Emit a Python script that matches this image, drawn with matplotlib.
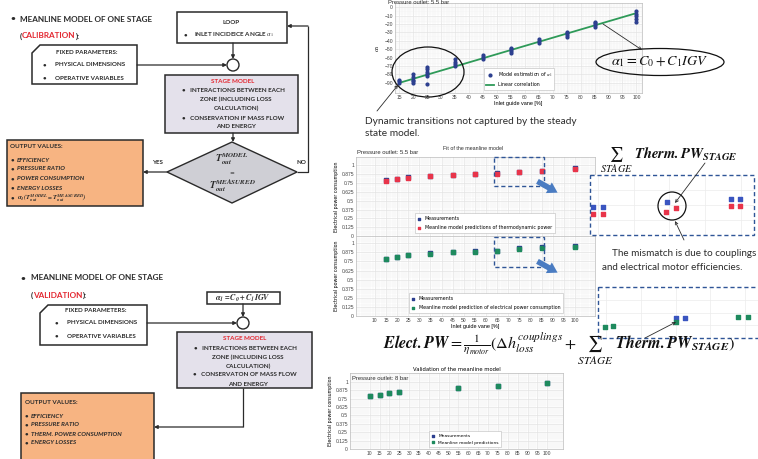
import matplotlib
matplotlib.use('Agg')
import matplotlib.pyplot as plt
import numpy as np
from matplotlib.patches import Rectangle, Polygon, Ellipse, Circle, FancyArrowPatch

plt.rcParams['mathtext.fontset'] = 'stix'

# ---------------- data ----------------
# alpha_1 calibration chart
igv_alpha = [15, 15, 15, 20, 20, 20, 20, 20, 25, 25, 25, 25, 25, 25,
             35, 35, 35, 35, 45, 45, 45, 55, 55, 55, 55, 65, 65, 65,
             75, 75, 75, 75, 85, 85, 85, 85, 100, 100, 100, 100, 100]
alpha_est = [-86, -88, -90, -80, -83, -86, -88, -90, -71, -74, -77, -80, -82, -91,
             -62, -65, -68, -70, -57, -59, -61, -48, -50, -52, -54, -38, -40, -42,
             -29, -31, -33, -36, -17, -19, -21, -24, -5, -8, -11, -14, -18]
lin_igv = [15, 100]
lin_alpha = [-90, -7]
alpha_xticks = list(range(15, 101, 5))
alpha_yticks = [0, -10, -20, -30, -40, -50, -60, -70, -80, -90]

# fit of the meanline model (5.5 bar)
igv_fit = [15, 20, 25, 35, 45, 55, 65, 75, 85, 100]
therm_meas = [0.79, 0.81, 0.83, 0.85, 0.87, 0.88, 0.89, 0.91, 0.92, 0.96]
therm_pred = [0.785, 0.805, 0.825, 0.845, 0.865, 0.875, 0.885, 0.905, 0.915, 0.955]
elec_meas = [0.79, 0.81, 0.84, 0.86, 0.88, 0.89, 0.90, 0.93, 0.945, 0.96]
elec_pred = [0.785, 0.805, 0.835, 0.855, 0.875, 0.885, 0.895, 0.925, 0.94, 0.955]

# validation (8 bar)
igv_val = [10, 15, 20, 25, 55, 75, 100]
val_meas = [0.79, 0.81, 0.84, 0.85, 0.91, 0.94, 0.985]
val_pred = [0.785, 0.805, 0.835, 0.845, 0.905, 0.935, 0.98]

power_yticks = [0, 0.125, 0.25, 0.375, 0.5, 0.625, 0.75, 0.875, 1]
power_ylabels = ['0', '0.125', '0.25', '0.375', '0.5', '0.625', '0.75', '0.875', '1']
power_xticks = list(range(10, 101, 5))

# zoomed details
zA_meas_x = [64.3, 65.7, 74.6, 83.6, 84.9]
zA_meas_y = [0.897, 0.897, 0.905, 0.910, 0.910]
zA_pred_x = [64.3, 65.7, 74.5, 75.9, 83.6, 84.9]
zA_pred_y = [0.885, 0.885, 0.888, 0.895, 0.898, 0.898]
zB_meas_x = [75.1, 76.4]
zB_meas_y = [0.889, 0.889]
zB_pred_x = [64.9, 66.0, 75.0, 84.0, 85.4]
zB_pred_y = [0.872, 0.874, 0.881, 0.891, 0.891]

# ---------------- figure ----------------
W, H = 758, 459
fig = plt.figure(figsize=(W / 100, H / 100), dpi=100)
fig.patch.set_facecolor('white')


def rect(l, t, r, b):
    return [l / W, 1 - b / H, (r - l) / W, (b - t) / H]


C_MEAS = '#2c3f8f'
C_RED = '#e8344a'
C_GREEN = '#1e8a5e'
C_LINE = '#2e9a58'
GRIDC = '#e3e3e3'


def style_axes(ax):
    ax.grid(True, which='major', color=GRIDC, lw=0.5)
    ax.minorticks_on()
    ax.grid(True, which='minor', color='#f0f0f0', lw=0.35)
    ax.tick_params(which='both', length=0, pad=1.5, labelsize=3.6, colors='#444444')
    for s in ax.spines.values():
        s.set_color('#bbbbbb')
        s.set_linewidth(0.5)
    for lab in ax.get_xticklabels() + ax.get_yticklabels():
        lab.set_family('Liberation Sans')


# ---- alpha chart ----
axa = fig.add_axes(rect(395, 3, 642, 93))
h_sc = axa.scatter(igv_alpha, alpha_est, s=4, color=C_MEAS, label=r'Model estimation of $\alpha_1$', zorder=3)
h_ln, = axa.plot(lin_igv, lin_alpha, color=C_LINE, lw=1.3, label='Linear correlation', zorder=2)
axa.set_xlim(13.5, 102)
axa.set_ylim(-102, 5)
axa.set_xticks(alpha_xticks)
axa.set_yticks(alpha_yticks)
style_axes(axa)
axa.set_xlabel('Inlet guide vane [%]', fontsize=4, labelpad=1, family='Liberation Sans')
axa.set_ylabel(r'$\alpha_1$', fontsize=5, labelpad=2)
leg = axa.legend(handles=[h_sc, h_ln], loc='lower left', bbox_to_anchor=(0.35, 0.01), fontsize=3.4,
                 frameon=True, handlelength=1.6, borderpad=0.5, labelspacing=0.7, fancybox=False,
                 edgecolor='#bbbbbb', framealpha=1)
leg.get_frame().set_linewidth(0.4)

# ---- fit chart A (thermodynamic) ----
axA = fig.add_axes(rect(356, 157, 595, 236))
axA.scatter(igv_fit, therm_meas, s=9, color=C_MEAS, marker='s', label='Measurements', zorder=3)
axA.scatter(igv_fit, therm_pred, s=7, color=C_RED, marker='s',
            label='Meanline model predictions of thermodynamic power', zorder=4)
axA.set_xlim(1.5, 109)
axA.set_ylim(0, 1.12)
axA.set_xticks(power_xticks)
axA.set_yticks(power_yticks)
axA.set_yticklabels(power_ylabels)
axA.set_xticklabels([])
style_axes(axA)
axA.set_ylabel('Electrical power consumption', fontsize=3.4, labelpad=2)
leg = axA.legend(loc='lower left', bbox_to_anchor=(0.235, 0.01), fontsize=3.4, frameon=True,
                 handlelength=0.8, borderpad=0.6, labelspacing=0.9, fancybox=False,
                 edgecolor='#bbbbbb', framealpha=1, markerscale=0.5)
leg.get_frame().set_linewidth(0.4)

# ---- fit chart B (electrical) ----
axB = fig.add_axes(rect(356, 236, 595, 316))
axB.scatter(igv_fit, elec_meas, s=9, color=C_MEAS, marker='s', label='Measurements', zorder=3)
axB.scatter(igv_fit, elec_pred, s=8, color=C_GREEN, marker='s',
            label='Meanline model prediction of electrical power consumption', zorder=4)
axB.set_xlim(1.5, 109)
axB.set_ylim(0, 1.1)
axB.set_xticks(power_xticks)
axB.set_yticks(power_yticks)
axB.set_yticklabels(power_ylabels)
style_axes(axB)
axB.set_xlabel('Inlet guide vane [%]', fontsize=4, labelpad=1, family='Liberation Sans')
axB.set_ylabel('Electrical power consumption', fontsize=3.4, labelpad=2)
leg = axB.legend(loc='lower left', bbox_to_anchor=(0.21, 0.01), fontsize=3.4, frameon=True,
                 handlelength=0.8, borderpad=0.6, labelspacing=0.9, fancybox=False,
                 edgecolor='#bbbbbb', framealpha=1, markerscale=0.5)
leg.get_frame().set_linewidth(0.4)

# ---- validation chart ----
axV = fig.add_axes(rect(350, 373, 563, 449))
axV.scatter(igv_val, val_meas, s=9, color=C_MEAS, marker='s', label='Measurements', zorder=3)
axV.scatter(igv_val, val_pred, s=8, color=C_GREEN, marker='s', label='Meanline model predictions', zorder=4)
axV.set_xlim(0, 108)
axV.set_ylim(0, 1.13)
axV.set_xticks(power_xticks)
axV.set_yticks(power_yticks)
axV.set_yticklabels(power_ylabels)
style_axes(axV)
axV.set_ylabel('Electrical power consumption', fontsize=3.4, labelpad=2)
axV.set_title('Validation of the meanline model', fontsize=3.8, pad=1.5)
leg = axV.legend(loc='lower left', bbox_to_anchor=(0.36, 0.0), fontsize=3.2, frameon=True,
                 handlelength=0.8, borderpad=0.5, labelspacing=0.6, fancybox=False,
                 edgecolor='#bbbbbb', framealpha=1, markerscale=0.5)
leg.get_frame().set_linewidth(0.4)

# ---- zoom insets ----
for (l, t, r, b), mx, my, px, py, pc in [
        ((590, 175, 754, 235), zA_meas_x, zA_meas_y, zA_pred_x, zA_pred_y, C_RED),
        ((598, 287, 758, 338), zB_meas_x, zB_meas_y, zB_pred_x, zB_pred_y, C_GREEN)]:
    az = fig.add_axes(rect(l, t, r, b))
    az.scatter(mx, my, s=5, marker='s', color='#3a55c0', zorder=3)
    az.scatter(px, py, s=5, marker='s', color=pc, zorder=4)
    az.set_xlim(63.9, 86.8)
    az.set_ylim(0.85, 0.95)
    az.set_xticks([65, 70, 75, 80, 85])
    az.set_yticks([0.875, 0.9, 0.925])
    az.grid(True, color='#ececec', lw=0.5)
    az.tick_params(length=0, labelbottom=False, labelleft=False)
    for s in az.spines.values():
        s.set_visible(False)

# ---------------- overlay ----------------
ov = fig.add_axes([0, 0, 1, 1], zorder=10)
ov.set_xlim(0, W)
ov.set_ylim(H, 0)
ov.axis('off')
ov.patch.set_alpha(0)

DK = '#2b2b2b'
FF = 'Lato'


def T(x, y, s, size=4.6, ha='left', va='center', color=DK, weight='bold', style='normal', family=FF, **kw):
    return ov.text(x, y, s, fontsize=size, ha=ha, va=va, color=color, weight=weight,
                   style=style, family=family, **kw)


def seq_text(x, y, parts, size):
    fig.canvas.draw()
    r = fig.canvas.get_renderer()
    for s, c in parts:
        t = T(x, y, s, size=size, color=c)
        bb = t.get_window_extent(renderer=r)
        x += bb.width


def arrow(x0, y0, x1, y1, lw=0.9, color=DK, style='-|>', ms=5):
    ov.add_patch(FancyArrowPatch((x0, y0), (x1, y1), arrowstyle=style, mutation_scale=ms,
                                 lw=lw, color=color, shrinkA=0, shrinkB=0))


def line(xs, ys, lw=0.9, color=DK):
    ov.plot(xs, ys, color=color, lw=lw, solid_capstyle='butt')


RED = '#e3262f'
ORANGE = '#f7b482'
LAV = '#e4e1eb'
GRAYD = '#cfcfd5'
EDGE = '#2a2a2a'
FS = 4.5

# ----- calibration flowchart -----
T(10, 19, '•', size=6)
T(20, 19, 'MEANLINE MODEL OF ONE STAGE', size=5.9)
seq_text(20, 36, [('(', DK), ('CALIBRATION', RED), ('):', DK)], 5.9)

ov.add_patch(Polygon([(40, 45), (137, 45), (137, 84), (32, 84), (32, 53)], closed=True,
                     fc='white', ec=EDGE, lw=1.1))
T(87, 52, 'FIXED PARAMETERS:', size=FS, ha='center')
T(43, 65, '•', size=FS)
T(55, 65, 'PHYSICAL DIMENSIONS', size=FS)
T(43, 78, '•', size=FS)
T(55, 78, 'OPERATIVE VARIABLES', size=FS)

ov.add_patch(Rectangle((177, 12), 110, 31, fc='white', ec=EDGE, lw=1.1))
T(231, 23, 'LOOP', size=FS, ha='center')
T(184, 35, '•', size=FS)
T(194, 35, r'INLET INCIDEICE ANGLE $\alpha_1$', size=FS)

ov.add_patch(Circle((233, 65), 6, fc='white', ec=EDGE, lw=1.0))
arrow(137, 65, 227, 65)
arrow(233, 43, 233, 59)

ov.add_patch(Rectangle((165, 75), 133, 58, fc=LAV, ec=EDGE, lw=1.1))
T(233, 81.5, 'STAGE MODEL', size=FS, ha='center', color=RED)
T(233, 90.5, '•   INTERACTIONS BETWEEN EACH', size=FS, ha='center')
T(236, 99.5, 'ZONE (INCLUDING LOSS', size=FS, ha='center')
T(236, 108.5, 'CALCULATION)', size=FS, ha='center')
T(233, 118, '•   CONSERVATION IF MASS FLOW', size=FS, ha='center')
T(236, 127, 'AND ENERGY', size=FS, ha='center')
arrow(233, 133, 233, 142)

ov.add_patch(Polygon([(167, 172), (232, 142), (297, 172), (232, 203)], closed=True,
                     fc=GRAYD, ec=EDGE, lw=1.0))
T(232, 159.5, r'$\mathbfit{T}_{\mathbfit{out}}^{\mathbfit{MODEL}}$', size=7.2, ha='center')
T(232, 172.5, '=', size=6, ha='center', weight='normal')
T(232, 186, r'$\mathbfit{T}_{\mathbfit{out}}^{\mathbfit{MEASURED}}$', size=7.2, ha='center')
T(157, 163, 'YES', size=FS, ha='center')
T(301, 163, 'NO', size=FS, ha='center')
line([297, 308, 308], [172, 172, 26])
arrow(308, 26, 287, 26)
arrow(167, 172, 143, 172)

ov.add_patch(Rectangle((7, 140), 136, 66, fc=ORANGE, ec=EDGE, lw=1.1))
T(10, 146.5, 'OUTPUT VALUES:', size=FS)
for yy, s in zip([160, 169, 179, 188],
                 ['EFFICIENCY', 'PRESSURE RATIO', 'POWER CONSUMPTION', 'ENERGY LOSSES']):
    T(11, yy, '•', size=FS)
    T(17, yy, s, size=FS, style='italic')
T(11, 198, '•', size=FS)
T(17, 198.5, r'$\mathbfit{\alpha_1(T_{out}^{MODEL}=T_{out}^{MEASURED})}$', size=4.8)

# ----- validation flowchart -----
T(20, 278, '•', size=6)
T(31, 278, 'MEANLINE MODEL OF ONE STAGE', size=5.9)
seq_text(31, 295, [('(', DK), ('VALIDATION', RED), ('):', DK)], 5.9)

ov.add_patch(Rectangle((207, 292), 73, 12, fc='white', ec=EDGE, lw=1.1))
T(243, 298, r'$\mathbfit{\alpha_1 = C_0 + C_1 IGV}$', size=5.8, ha='center')
ov.add_patch(Circle((243, 323), 6, fc='white', ec=EDGE, lw=1.0))
ov.add_patch(Polygon([(48, 305), (147, 305), (147, 345), (40, 345), (40, 313)], closed=True,
                     fc='white', ec=EDGE, lw=1.1))
T(96, 310, 'FIXED PARAMETERS:', size=FS, ha='center')
T(55, 323, '•', size=FS)
T(67, 323, 'PHYSICAL DIMENSIONS', size=FS)
T(55, 336, '•', size=FS)
T(67, 336, 'OPERATIVE VARIABLES', size=FS)
arrow(147, 323, 237, 323)
arrow(243, 304, 243, 317)

ov.add_patch(Rectangle((177, 332), 135, 56, fc=LAV, ec=EDGE, lw=1.1))
T(245, 338.5, 'STAGE MODEL', size=FS, ha='center', color=RED)
T(245, 348, '•   INTERACTIONS BETWEEN EACH', size=FS, ha='center')
T(248, 357, 'ZONE (INCLUDING LOSS', size=FS, ha='center')
T(248, 366, 'CALCULATION)', size=FS, ha='center')
T(245, 375, '•   CONSERVATON OF MASS FLOW', size=FS, ha='center')
T(248, 384, 'AND ENERGY', size=FS, ha='center')
line([243, 243], [388, 427])
arrow(243, 427, 154, 427)

ov.add_patch(Rectangle((21, 393), 133, 75, fc=ORANGE, ec=EDGE, lw=1.1))
T(25, 403, 'OUTPUT VALUES:', size=FS)
for yy, s in zip([416, 425, 434, 443],
                 ['EFFICIENCY', 'PRESSURE RATIO', 'THERM. POWER CONSUMPTION', 'ENERGY LOSSES']):
    T(25, yy, '•', size=FS)
    T(31, yy, s, size=FS, style='italic')

# ----- chart annotations -----
T(388, 3, 'Pressure outlet: 5.5 bar', size=4.2, weight='normal', family='Liberation Sans')
ov.add_patch(Ellipse((428, 72), 72, 50, fill=False, ec='#111111', lw=0.9))
arrow(377, 111, 398, 85, lw=0.6, style='->', ms=5)
T(365, 121, 'Dynamic transitions not captured by the steady', size=7.3, weight='normal')
T(365, 134, 'state model.', size=7.3, weight='normal')

ov.add_patch(Ellipse((660, 62), 128, 27, fill=False, ec='#111111', lw=0.9))
ov.text(660, 62, r'$\alpha_1 = C_0 + C_1 IGV$', fontsize=10.2, ha='center', va='center', color='#111111')
arrow(603, 24, 642, 50, lw=0.6, style='->', ms=5)

T(473, 148, 'Fit of the meanline model', size=3.8, weight='normal', ha='center', family='Liberation Sans')
T(357, 153, 'Pressure outlet: 5.5 bar', size=4.2, weight='normal', family='Liberation Sans')
T(352, 378, 'Pressure outlet: 8 bar', size=4.2, weight='normal', family='Liberation Sans')

DASH = '#2f5597'
for (l, t, r, b) in [(494, 157, 544, 186), (494, 237, 544, 267), (590, 175, 754, 235), (598, 287, 760, 338)]:
    ov.add_patch(Rectangle((l, t), r - l, b - t, fill=False, ec=DASH, lw=1.0, ls=(0, (3, 2))))

for (x0, y0, x1, y1) in [(535, 180, 560, 194), (535, 260, 560, 274)]:
    ov.add_patch(FancyArrowPatch((x0, y0), (x1, y1),
                                 arrowstyle='simple,head_width=1.1,head_length=0.9,tail_width=0.5',
                                 mutation_scale=8, color='#4a7cc2', lw=0))

ov.text(600, 160, r'$\sum_{\mathit{STAGE}}\ \mathbfit{Therm.PW}_{\mathbfit{STAGE}}$', fontsize=10.5,
        ha='left', va='center', color='#111111')
ov.add_patch(Circle((672, 206), 14, fill=False, ec='#111111', lw=0.9))
arrow(705, 163, 675, 203, lw=0.6, style='->', ms=5)
arrow(684, 240, 675, 221, lw=0.6, style='->', ms=5)
T(684, 254, 'The mismatch is due to couplings', size=7.1, weight='normal', ha='center')
T(672, 267, 'and electrical motor efficiencies.', size=7.1, weight='normal', ha='center')
arrow(645, 338, 676, 322, lw=0.6, style='->', ms=5)

ov.text(559, 349,
        r'$\mathbfit{Elect.PW} = \frac{1}{\eta_{motor}}(\Delta h_{loss}^{couplings}+\sum_{\mathit{STAGE}}\ \mathbfit{Therm.PW}_{\mathbfit{STAGE}})$',
        fontsize=11.6, ha='center', va='center', color='#111111')

fig.savefig('out.png', dpi=100)
